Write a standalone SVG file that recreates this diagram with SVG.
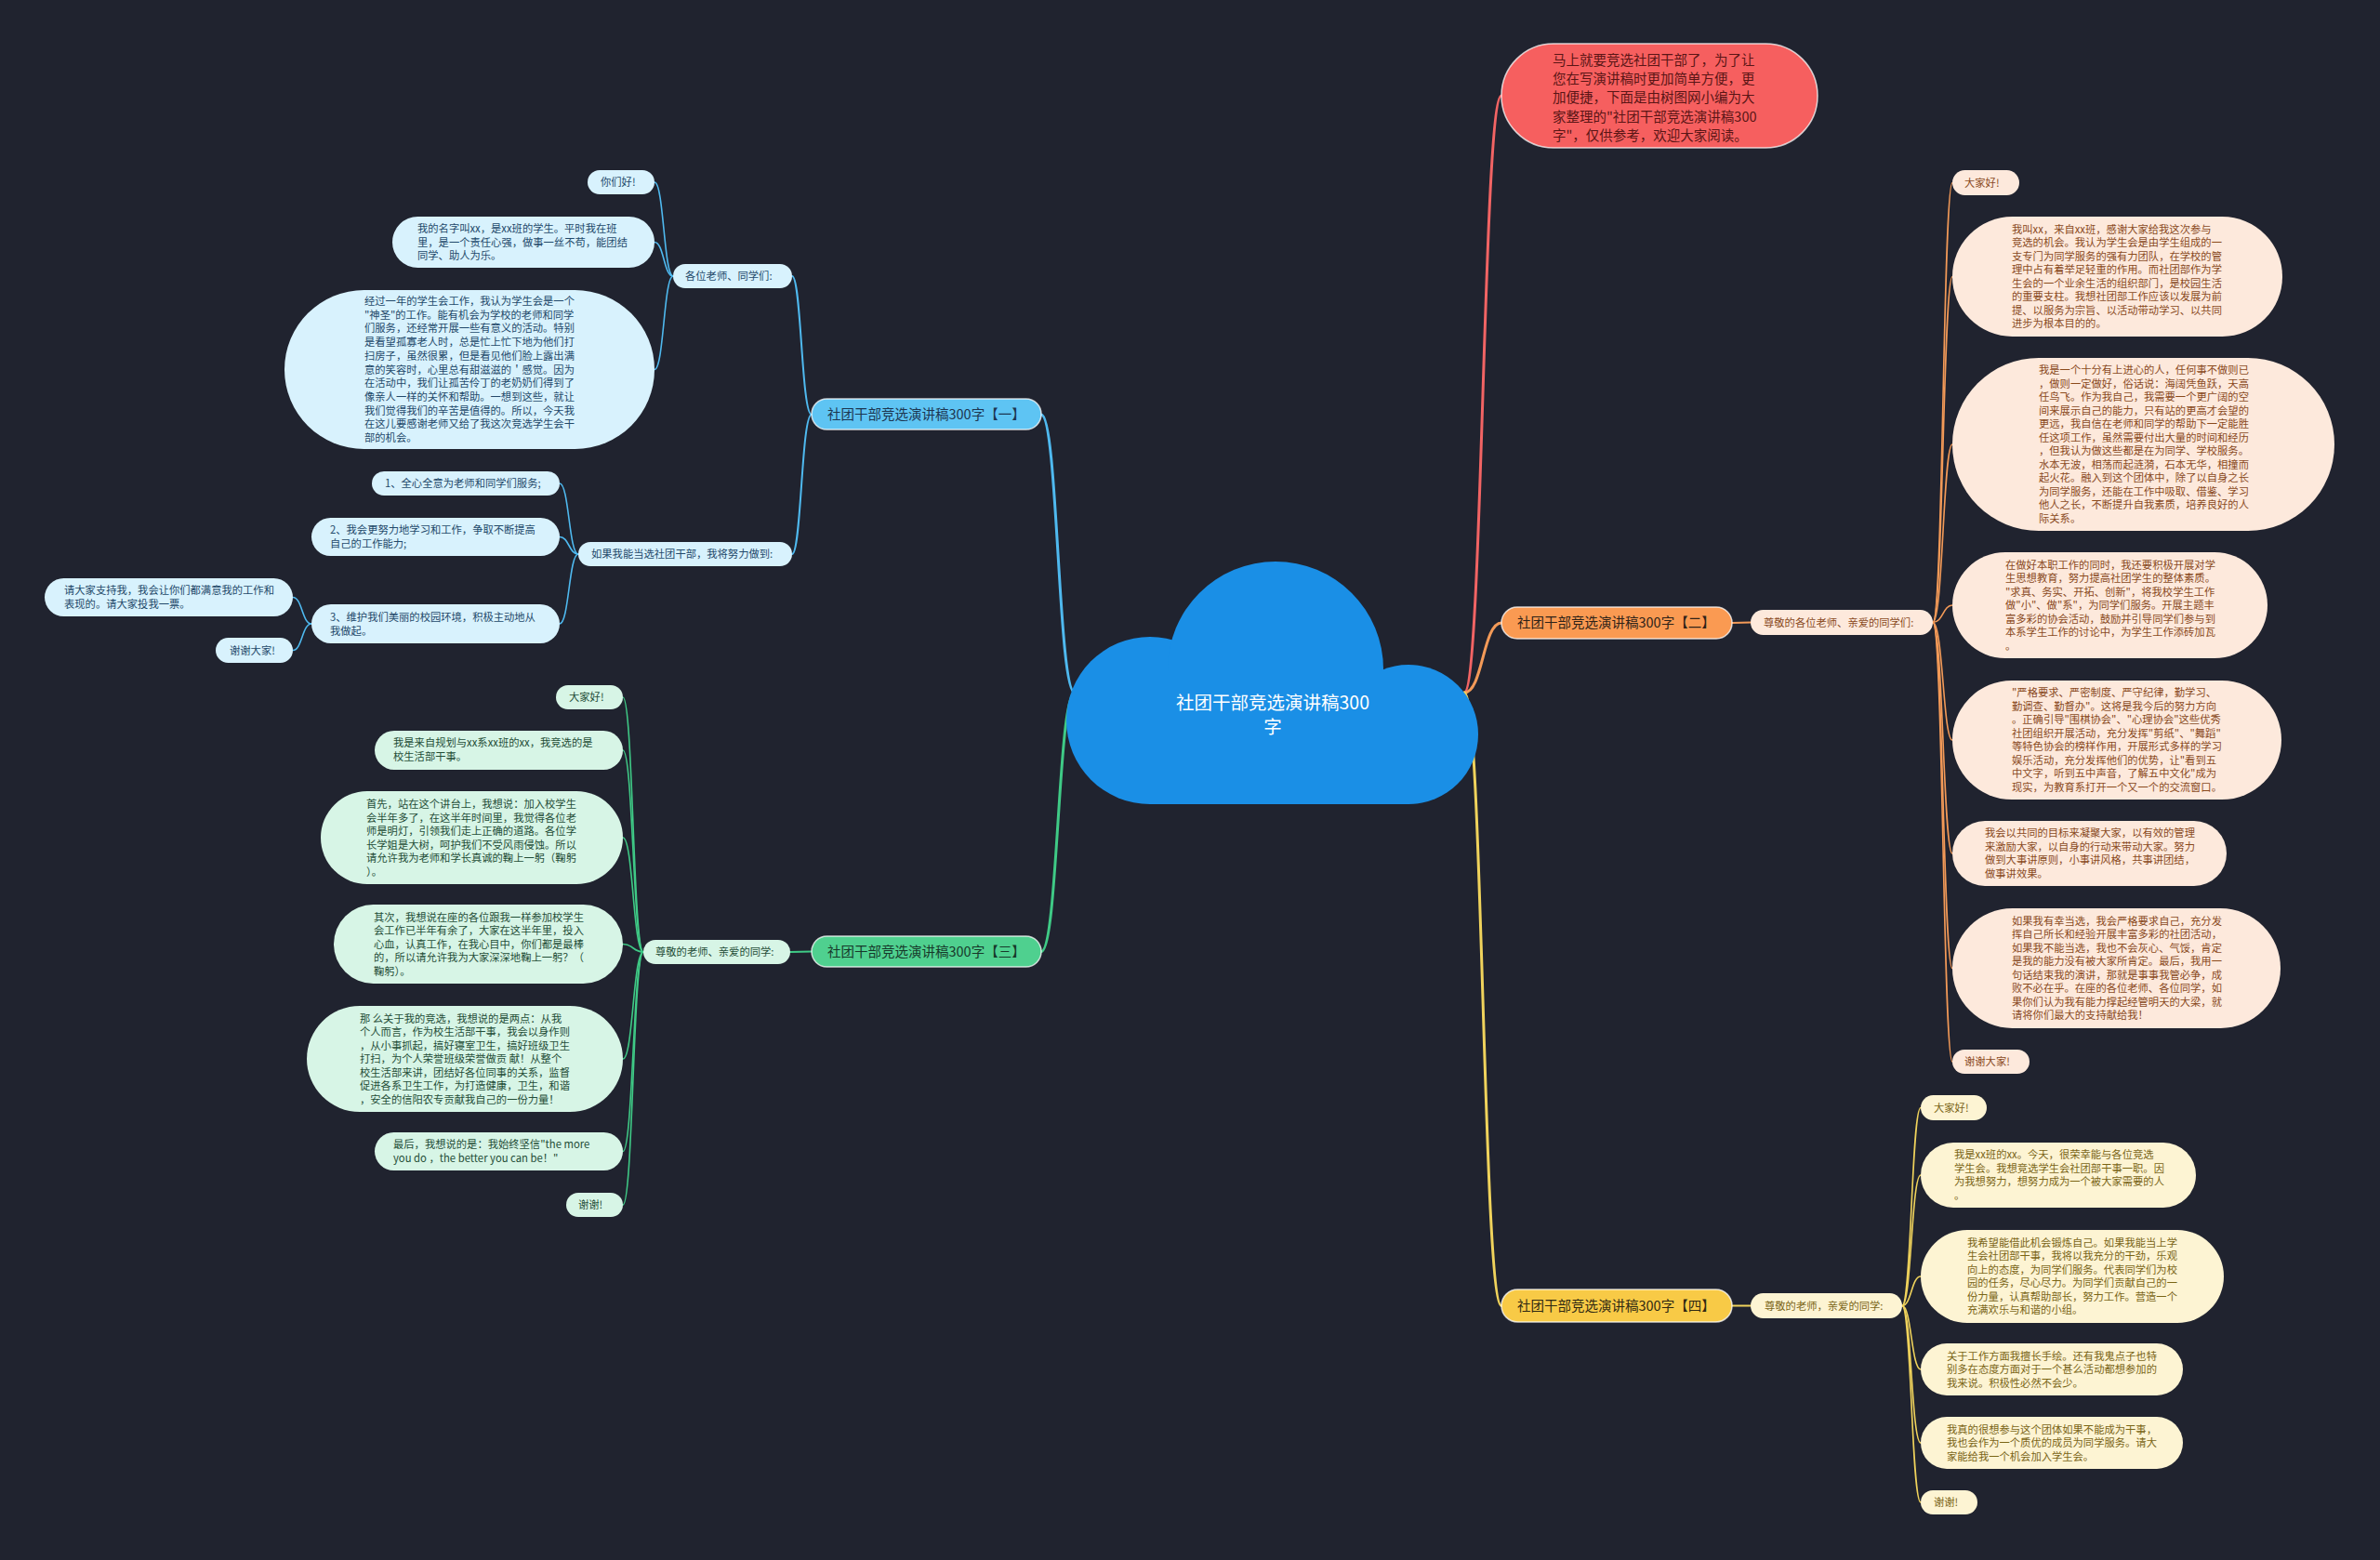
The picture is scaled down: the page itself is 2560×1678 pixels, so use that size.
<svg xmlns="http://www.w3.org/2000/svg" width="2560" height="1678" viewBox="0 0 2560 1678">
<style>
text{font-family:"Noto Sans CJK SC","Noto Sans",sans-serif;}
.s{font-size:11.3px;}
.m{font-size:14.5px;}
.c{fill:none;stroke-linecap:round;}
.cb{stroke:#4fb9ef;}
.cg{stroke:#3fca86;}
.co{stroke:#f39a58;}
.cy{stroke:#f0d35c;}
.cr{stroke:#f26464;}
.w3{stroke-width:3;}
.w2{stroke-width:2;}
.w1{stroke-width:1.6;}
.fb{fill:#d8f2fd;}
.fg{fill:#d7f5e6;}
.fo{fill:#fde9dc;}
.fy{fill:#fdf4d3;}
.tb{fill:#23496a;}
.tg{fill:#244d37;}
.to{fill:#8a4a1c;}
.ty{fill:#7a6516;}
.cl{fill:#1a8fe6;}
.brd{stroke:#ffffff;stroke-opacity:0.75;stroke-width:1.5;}
</style>
<rect width="2560" height="1678" fill="#20232f"/>

<g id="connectors">
<path class="c cr w3" d="M1575 745 C1595 745 1595 103 1615 103"/>
<path class="c cb w3" d="M1156 745 C1138 745 1138 446 1120 446"/>
<path class="c cg w3" d="M1156 745 C1138 745 1138 1023.5 1120 1023.5"/>
<path class="c co w3" d="M1575 745 C1595 745 1595 670 1615 670"/>
<path class="c cy w3" d="M1575 745 C1595 745 1595 1404.5 1615 1404.5"/>

<path class="c cb w2" d="M873 446 C862 446 862 297 852 297"/>
<path class="c cb w2" d="M873 446 C862 446 862 596 852 596"/>
<path class="c cb w1" d="M724 297 C714 297 714 196 704 196"/>
<path class="c cb w1" d="M724 297 C714 297 714 260.5 704 260.5"/>
<path class="c cb w1" d="M724 297 C714 297 714 397.5 704 397.5"/>
<path class="c cb w1" d="M622 596 C612 596 612 520 602 520"/>
<path class="c cb w1" d="M622 596 C612 596 612 577.5 602 577.5"/>
<path class="c cb w1" d="M622 596 C612 596 612 671 602 671"/>
<path class="c cb w1" d="M335 671 C325 671 325 642.5 315 642.5"/>
<path class="c cb w1" d="M335 671 C325 671 325 699.5 315 699.5"/>

<path class="c cg w2" d="M873 1023.5 L850 1024"/>
<path class="c cg w1" d="M692 1024 C681 1024 681 750 670 750"/>
<path class="c cg w1" d="M692 1024 C681 1024 681 807 670 807"/>
<path class="c cg w1" d="M692 1024 C681 1024 681 901 670 901"/>
<path class="c cg w1" d="M692 1024 C681 1024 681 1015.5 670 1015.5"/>
<path class="c cg w1" d="M692 1024 C681 1024 681 1139 670 1139"/>
<path class="c cg w1" d="M692 1024 C681 1024 681 1238.5 670 1238.5"/>
<path class="c cg w1" d="M692 1024 C681 1024 681 1296 670 1296"/>

<path class="c co w2" d="M1863 670 L1883 669.5"/>
<path class="c co w1" d="M2079 669.5 C2090 669.5 2090 196.5 2100 196.5"/>
<path class="c co w1" d="M2079 669.5 C2090 669.5 2090 297.5 2100 297.5"/>
<path class="c co w1" d="M2079 669.5 C2090 669.5 2090 478 2100 478"/>
<path class="c co w1" d="M2079 669.5 C2090 669.5 2090 651 2100 651"/>
<path class="c co w1" d="M2079 669.5 C2090 669.5 2090 796 2100 796"/>
<path class="c co w1" d="M2079 669.5 C2090 669.5 2090 918 2100 918"/>
<path class="c co w1" d="M2079 669.5 C2090 669.5 2090 1041.5 2100 1041.5"/>
<path class="c co w1" d="M2079 669.5 C2090 669.5 2090 1142 2100 1142"/>

<path class="c cy w2" d="M1863 1404.5 L1883 1404.5"/>
<path class="c cy w1" d="M2046 1404.5 C2056 1404.5 2056 1191.5 2066 1191.5"/>
<path class="c cy w1" d="M2046 1404.5 C2056 1404.5 2056 1264 2066 1264"/>
<path class="c cy w1" d="M2046 1404.5 C2056 1404.5 2056 1373 2066 1373"/>
<path class="c cy w1" d="M2046 1404.5 C2056 1404.5 2056 1473 2066 1473"/>
<path class="c cy w1" d="M2046 1404.5 C2056 1404.5 2056 1552 2066 1552"/>
<path class="c cy w1" d="M2046 1404.5 C2056 1404.5 2056 1616 2066 1616"/>
</g>

<g id="root">
<circle class="cl" cx="1237" cy="775" r="90"/>
<circle class="cl" cx="1372" cy="720" r="116"/>
<circle class="cl" cx="1515" cy="790" r="75"/>
<rect class="cl" x="1237" y="722" width="278" height="143"/>
<text x="1369" y="763" font-size="19.5" fill="#ffffff" text-anchor="middle">社团干部竞选演讲稿300</text>
<text x="1369" y="789" font-size="19.5" fill="#ffffff" text-anchor="middle">字</text>
</g>

<g id="intro">
<rect x="1615" y="47" width="340" height="112" rx="56" fill="#f65f5f" class="brd"/>
<text class="m" fill="#5a1515"><tspan x="1670" y="70">马上就要竞选社团干部了，为了让</tspan><tspan x="1670" y="90.2">您在写演讲稿时更加简单方便，更</tspan><tspan x="1670" y="110.4">加便捷，下面是由树图网小编为大</tspan><tspan x="1670" y="130.6">家整理的"社团干部竞选演讲稿300</tspan><tspan x="1670" y="150.8">字"，仅供参考，欢迎大家阅读。</tspan></text>
</g>

<g id="branch1">
<rect x="873" y="429" width="247" height="33" rx="16.5" fill="#5ec4f3" class="brd"/>
<text class="m" x="890" y="450.5" fill="#1c3550">社团干部竞选演讲稿300字【一】</text>
</g>
<g id="b1-greet">
<rect x="724" y="284" width="128" height="26" rx="13" class="fb"/>
<text class="s tb" x="737" y="301">各位老师、同学们:</text>
</g>
<g id="b1-hello">
<rect x="632" y="183" width="72" height="26" rx="13" class="fb"/>
<text class="s tb" x="646" y="200">你们好!</text>
</g>
<g id="b1-name">
<rect x="422" y="233" width="282" height="55" rx="27.5" class="fb"/>
<text class="s tb"><tspan x="449" y="250">我的名字叫xx，是xx班的学生。平时我在班</tspan><tspan x="449" y="264.5">里，是一个责任心强，做事一丝不苟，能团结</tspan><tspan x="449" y="279">同学、助人为乐。</tspan></text>
</g>
<g id="b1-year">
<rect x="306" y="312" width="398" height="171" rx="85.5" class="fb"/>
<text class="s tb"><tspan x="392" y="328">经过一年的学生会工作，我认为学生会是一个</tspan><tspan x="392" y="342.7">"神圣"的工作。能有机会为学校的老师和同学</tspan><tspan x="392" y="357.4">们服务，还经常开展一些有意义的活动。特别</tspan><tspan x="392" y="372.1">是看望孤寡老人时，总是忙上忙下地为他们打</tspan><tspan x="392" y="386.8">扫房子，虽然很累，但是看见他们脸上露出满</tspan><tspan x="392" y="401.5">意的笑容时，心里总有甜滋滋的＇感觉。因为</tspan><tspan x="392" y="416.2">在活动中，我们让孤苦伶丁的老奶奶们得到了</tspan><tspan x="392" y="430.9">像亲人一样的关怀和帮助。一想到这些，就让</tspan><tspan x="392" y="445.6">我们觉得我们的辛苦是值得的。所以，今天我</tspan><tspan x="392" y="460.3">在这儿要感谢老师又给了我这次竞选学生会干</tspan><tspan x="392" y="475">部的机会。</tspan></text>
</g>
<g id="b1-if">
<rect x="622" y="583" width="230" height="26" rx="13" class="fb"/>
<text class="s tb" x="636" y="600">如果我能当选社团干部，我将努力做到:</text>
</g>
<g id="b1-p1">
<rect x="400" y="507" width="202" height="26" rx="13" class="fb"/>
<text class="s tb" x="414" y="524">1、全心全意为老师和同学们服务;</text>
</g>
<g id="b1-p2">
<rect x="335" y="557" width="267" height="41" rx="20.5" class="fb"/>
<text class="s tb"><tspan x="355" y="574">2、我会更努力地学习和工作，争取不断提高</tspan><tspan x="355" y="588.5">自己的工作能力;</tspan></text>
</g>
<g id="b1-p3">
<rect x="335" y="650" width="267" height="42" rx="21" class="fb"/>
<text class="s tb"><tspan x="355" y="668">3、维护我们美丽的校园环境，积极主动地从</tspan><tspan x="355" y="682.5">我做起。</tspan></text>
</g>
<g id="b1-vote">
<rect x="48" y="622" width="267" height="41" rx="20.5" class="fb"/>
<text class="s tb"><tspan x="69" y="639">请大家支持我，我会让你们都满意我的工作和</tspan><tspan x="69" y="653.5">表现的。请大家投我一票。</tspan></text>
</g>
<g id="b1-thanks">
<rect x="232" y="686" width="83" height="27" rx="13.5" class="fb"/>
<text class="s tb" x="247" y="703.5">谢谢大家!</text>
</g>

<g id="branch3">
<rect x="873" y="1007" width="247" height="33" rx="16.5" fill="#4fd08f" class="brd"/>
<text class="m" x="890" y="1028.5" fill="#17382a">社团干部竞选演讲稿300字【三】</text>
</g>
<g id="b3-greet">
<rect x="692" y="1011" width="158" height="26" rx="13" class="fg"/>
<text class="s tg" x="705" y="1028">尊敬的老师、亲爱的同学:</text>
</g>
<g id="b3-hello">
<rect x="598" y="737" width="72" height="26" rx="13" class="fg"/>
<text class="s tg" x="612" y="754">大家好!</text>
</g>
<g id="b3-self">
<rect x="403" y="786" width="267" height="42" rx="21" class="fg"/>
<text class="s tg"><tspan x="423" y="803">我是来自规划与xx系xx班的xx，我竞选的是</tspan><tspan x="423" y="817.5">校生活部干事。</tspan></text>
</g>
<g id="b3-first">
<rect x="345" y="851" width="325" height="100" rx="50" class="fg"/>
<text class="s tg"><tspan x="394" y="869">首先，站在这个讲台上，我想说：加入校学生</tspan><tspan x="394" y="883.5">会半年多了，在这半年时间里，我觉得各位老</tspan><tspan x="394" y="898">师是明灯，引领我们走上正确的道路。各位学</tspan><tspan x="394" y="912.5">长学姐是大树，呵护我们不受风雨侵蚀。所以</tspan><tspan x="394" y="927">请允许我为老师和学长真诚的鞠上一躬（鞠躬</tspan><tspan x="394" y="941.5">）。</tspan></text>
</g>
<g id="b3-second">
<rect x="359" y="973" width="311" height="85" rx="42.5" class="fg"/>
<text class="s tg"><tspan x="402" y="990.5">其次，我想说在座的各位跟我一样参加校学生</tspan><tspan x="402" y="1005">会工作已半年有余了，大家在这半年里，投入</tspan><tspan x="402" y="1019.5">心血，认真工作，在我心目中，你们都是最棒</tspan><tspan x="402" y="1034">的，所以请允许我为大家深深地鞠上一躬？（</tspan><tspan x="402" y="1048.5">鞠躬）。</tspan></text>
</g>
<g id="b3-third">
<rect x="330" y="1082" width="340" height="114" rx="57" class="fg"/>
<text class="s tg"><tspan x="387" y="1099.5">那 么关于我的竞选，我想说的是两点：从我</tspan><tspan x="387" y="1114">个人而言，作为校生活部干事，我会以身作则</tspan><tspan x="387" y="1128.5">，从小事抓起，搞好寝室卫生，搞好班级卫生</tspan><tspan x="387" y="1143">打扫，为个人荣誉班级荣誉做贡 献！从整个</tspan><tspan x="387" y="1157.5">校生活部来讲，团结好各位同事的关系，监督</tspan><tspan x="387" y="1172">促进各系卫生工作，为打造健康，卫生，和谐</tspan><tspan x="387" y="1186.5">，安全的信阳农专贡献我自己的一份力量！</tspan></text>
</g>
<g id="b3-last">
<rect x="403" y="1218" width="267" height="41" rx="20.5" class="fg"/>
<text class="s tg"><tspan x="423" y="1235">最后，我想说的是：我始终坚信"the more</tspan><tspan x="423" y="1249.5">you do ，the better you can be！"</tspan></text>
</g>
<g id="b3-thanks">
<rect x="609" y="1283" width="61" height="26" rx="13" class="fg"/>
<text class="s tg" x="622" y="1300">谢谢!</text>
</g>

<g id="branch2">
<rect x="1615" y="653" width="248" height="34" rx="17" fill="#fa9a52" class="brd"/>
<text class="m" x="1632" y="675" fill="#2e2218">社团干部竞选演讲稿300字【二】</text>
</g>
<g id="b2-greet">
<rect x="1883" y="656" width="196" height="27" rx="13.5" class="fo"/>
<text class="s to" x="1897" y="673.5">尊敬的各位老师、亲爱的同学们:</text>
</g>
<g id="b2-hello">
<rect x="2100" y="183" width="72" height="27" rx="13.5" class="fo"/>
<text class="s to" x="2113" y="200.5">大家好!</text>
</g>
<g id="b2-p1">
<rect x="2100" y="233" width="355" height="129" rx="64.5" class="fo"/>
<text class="s to"><tspan x="2164" y="250.8">我叫xx，来自xx班，感谢大家给我这次参与</tspan><tspan x="2164" y="265.3">竞选的机会。我认为学生会是由学生组成的一</tspan><tspan x="2164" y="279.8">支专门为同学服务的强有力团队，在学校的管</tspan><tspan x="2164" y="294.3">理中占有着举足轻重的作用。而社团部作为学</tspan><tspan x="2164" y="308.8">生会的一个业余生活的组织部门，是校园生活</tspan><tspan x="2164" y="323.3">的重要支柱。我想社团部工作应该以发展为前</tspan><tspan x="2164" y="337.8">提、以服务为宗旨、以活动带动学习、以共同</tspan><tspan x="2164" y="352.3">进步为根本目的的。</tspan></text>
</g>
<g id="b2-p2">
<rect x="2100" y="385" width="411" height="186" rx="93" class="fo"/>
<text class="s to"><tspan x="2193" y="402.3">我是一个十分有上进心的人，任何事不做则已</tspan><tspan x="2193" y="416.8">，做则一定做好，俗话说：海阔凭鱼跃，天高</tspan><tspan x="2193" y="431.3">任鸟飞。作为我自己，我需要一个更广阔的空</tspan><tspan x="2193" y="445.8">间来展示自己的能力，只有站的更高才会望的</tspan><tspan x="2193" y="460.3">更远，我自信在老师和同学的帮助下一定能胜</tspan><tspan x="2193" y="474.8">任这项工作，虽然需要付出大量的时间和经历</tspan><tspan x="2193" y="489.3">，但我认为做这些都是在为同学、学校服务。</tspan><tspan x="2193" y="503.8">水本无波，相荡而起涟漪，石本无华，相撞而</tspan><tspan x="2193" y="518.3">起火花。融入到这个团体中，除了以自身之长</tspan><tspan x="2193" y="532.8">为同学服务，还能在工作中吸取、借鉴、学习</tspan><tspan x="2193" y="547.3">他人之长，不断提升自我素质，培养良好的人</tspan><tspan x="2193" y="561.8">际关系。</tspan></text>
</g>
<g id="b2-p3">
<rect x="2100" y="594" width="339" height="114" rx="57" class="fo"/>
<text class="s to"><tspan x="2157" y="611.5">在做好本职工作的同时，我还要积极开展对学</tspan><tspan x="2157" y="626">生思想教育，努力提高社团学生的整体素质。</tspan><tspan x="2157" y="640.5">"求真、务实、开拓、创新"，将我校学生工作</tspan><tspan x="2157" y="655">做"小"、做"系"，为同学们服务。开展主题丰</tspan><tspan x="2157" y="669.5">富多彩的协会活动，鼓励并引导同学们参与到</tspan><tspan x="2157" y="684">本系学生工作的讨论中，为学生工作添砖加瓦</tspan><tspan x="2157" y="698.5">。</tspan></text>
</g>
<g id="b2-p4">
<rect x="2100" y="732" width="354" height="128" rx="64" class="fo"/>
<text class="s to"><tspan x="2164" y="749.3">"严格要求、严密制度、严守纪律，勤学习、</tspan><tspan x="2164" y="763.8">勤调查、勤督办"。这将是我今后的努力方向</tspan><tspan x="2164" y="778.3">。正确引导"围棋协会"、"心理协会"这些优秀</tspan><tspan x="2164" y="792.8">社团组织开展活动，充分发挥"剪纸"、"舞蹈"</tspan><tspan x="2164" y="807.3">等特色协会的榜样作用，开展形式多样的学习</tspan><tspan x="2164" y="821.8">娱乐活动，充分发挥他们的优势，让"看到五</tspan><tspan x="2164" y="836.3">中文字，听到五中声音，了解五中文化"成为</tspan><tspan x="2164" y="850.8">现实，为教育系打开一个又一个的交流窗口。</tspan></text>
</g>
<g id="b2-p5">
<rect x="2100" y="883" width="295" height="70" rx="35" class="fo"/>
<text class="s to"><tspan x="2135" y="900.3">我会以共同的目标来凝聚大家，以有效的管理</tspan><tspan x="2135" y="914.8">来激励大家，以自身的行动来带动大家。努力</tspan><tspan x="2135" y="929.3">做到大事讲原则，小事讲风格，共事讲团结，</tspan><tspan x="2135" y="943.8">做事讲效果。</tspan></text>
</g>
<g id="b2-p6">
<rect x="2100" y="977" width="353" height="129" rx="64.5" class="fo"/>
<text class="s to"><tspan x="2164" y="994.8">如果我有幸当选，我会严格要求自己，充分发</tspan><tspan x="2164" y="1009.3">挥自己所长和经验开展丰富多彩的社团活动，</tspan><tspan x="2164" y="1023.8">如果我不能当选，我也不会灰心、气馁，肯定</tspan><tspan x="2164" y="1038.3">是我的能力没有被大家所肯定。最后，我用一</tspan><tspan x="2164" y="1052.8">句话结束我的演讲，那就是事事我管必争，成</tspan><tspan x="2164" y="1067.3">败不必在乎。在座的各位老师、各位同学，如</tspan><tspan x="2164" y="1081.8">果你们认为我有能力撑起经管明天的大梁，就</tspan><tspan x="2164" y="1096.3">请将你们最大的支持献给我！</tspan></text>
</g>
<g id="b2-thanks">
<rect x="2100" y="1129" width="83" height="26" rx="13" class="fo"/>
<text class="s to" x="2113" y="1146">谢谢大家!</text>
</g>

<g id="branch4">
<rect x="1615" y="1387" width="248" height="35" rx="17.5" fill="#f8ca46" class="brd"/>
<text class="m" x="1632" y="1409.5" fill="#2f2812">社团干部竞选演讲稿300字【四】</text>
</g>
<g id="b4-greet">
<rect x="1883" y="1391" width="163" height="27" rx="13.5" class="fy"/>
<text class="s ty" x="1898" y="1408.5">尊敬的老师，亲爱的同学:</text>
</g>
<g id="b4-hello">
<rect x="2066" y="1178" width="71" height="27" rx="13.5" class="fy"/>
<text class="s ty" x="2080" y="1195.5">大家好!</text>
</g>
<g id="b4-p1">
<rect x="2066" y="1229" width="296" height="70" rx="35" class="fy"/>
<text class="s ty"><tspan x="2102" y="1246.3">我是xx班的xx。今天，很荣幸能与各位竞选</tspan><tspan x="2102" y="1260.8">学生会。我想竞选学生会社团部干事一职。因</tspan><tspan x="2102" y="1275.3">为我想努力，想努力成为一个被大家需要的人</tspan><tspan x="2102" y="1289.8">。</tspan></text>
</g>
<g id="b4-p2">
<rect x="2066" y="1323" width="326" height="100" rx="50" class="fy"/>
<text class="s ty"><tspan x="2116" y="1340.8">我希望能借此机会锻炼自己。如果我能当上学</tspan><tspan x="2116" y="1355.3">生会社团部干事，我将以我充分的干劲，乐观</tspan><tspan x="2116" y="1369.8">向上的态度，为同学们服务。代表同学们为校</tspan><tspan x="2116" y="1384.3">园的任务，尽心尽力。为同学们贡献自己的一</tspan><tspan x="2116" y="1398.8">份力量，认真帮助部长，努力工作。营造一个</tspan><tspan x="2116" y="1413.3">充满欢乐与和谐的小组。</tspan></text>
</g>
<g id="b4-p3">
<rect x="2066" y="1445" width="282" height="56" rx="28" class="fy"/>
<text class="s ty"><tspan x="2094" y="1462.5">关于工作方面我擅长手绘。还有我鬼点子也特</tspan><tspan x="2094" y="1477">别多在态度方面对于一个甚么活动都想参加的</tspan><tspan x="2094" y="1491.5">我来说。积极性必然不会少。</tspan></text>
</g>
<g id="b4-p4">
<rect x="2066" y="1524" width="282" height="56" rx="28" class="fy"/>
<text class="s ty"><tspan x="2094" y="1541.5">我真的很想参与这个团体如果不能成为干事，</tspan><tspan x="2094" y="1556">我也会作为一个质优的成员为同学服务。请大</tspan><tspan x="2094" y="1570.5">家能给我一个机会加入学生会。</tspan></text>
</g>
<g id="b4-thanks">
<rect x="2066" y="1603" width="61" height="26" rx="13" class="fy"/>
<text class="s ty" x="2080" y="1620">谢谢!</text>
</g>
</svg>
